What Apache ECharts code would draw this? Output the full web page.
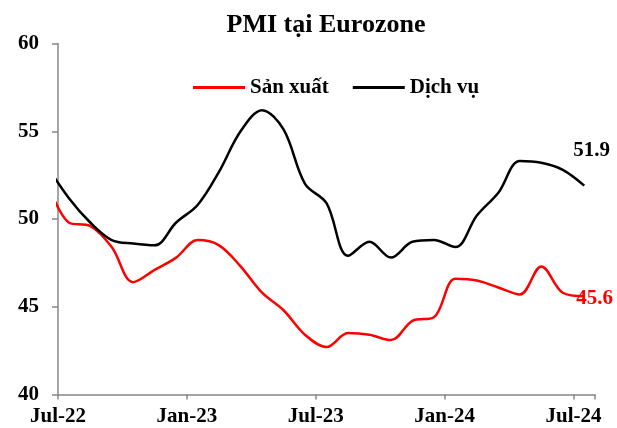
<!DOCTYPE html>
<html lang="vi">
<head>
<meta charset="UTF-8">
<title>PMI tại Eurozone</title>
<script src="https://cdn.jsdelivr.net/npm/echarts@6/dist/echarts.min.js"></script>
<style>
  html, body { margin: 0; padding: 0; background: #fff; }
  #chart { width: 617px; height: 428px; }
</style>
</head>
<body>
<div id="chart"></div>
<script>
// monthly PMI, Jun-22 .. Jul-24 (first month is cut by the axis start)
var monthNames = ['Jun-22','Jul-22','Aug-22','Sep-22','Oct-22','Nov-22','Dec-22',
  'Jan-23','Feb-23','Mar-23','Apr-23','May-23','Jun-23','Jul-23','Aug-23','Sep-23',
  'Oct-23','Nov-23','Dec-23','Jan-24','Feb-24','Mar-24','Apr-24','May-24','Jun-24','Jul-24'];
var sanXuat = [52.1, 49.8, 49.6, 48.4, 46.4, 47.1, 47.8, 48.8, 48.5, 47.3, 45.8, 44.8, 43.4,
  42.7, 43.5, 43.4, 43.1, 44.2, 44.4, 46.6, 46.5, 46.1, 45.7, 47.3, 45.8, 45.6];
var dichVu = [53.0, 51.2, 49.8, 48.8, 48.6, 48.5, 49.8, 50.8, 52.7, 55.0, 56.2, 55.1, 52.0,
  50.9, 47.9, 48.7, 47.8, 48.7, 48.8, 48.4, 50.2, 51.5, 53.3, 53.2, 52.8, 51.9];
var tickLabels = { 0: 'Jul-22', 6: 'Jan-23', 12: 'Jul-23', 18: 'Jan-24', 24: 'Jul-24' };

var serif = "'Liberation Serif', 'Times New Roman', serif";

// months counted from 1 Jul 2022, each value sits mid-month
function toPairs(arr) {
  return arr.map(function (v, i) { return [i - 0.5, v]; });
}

var myChart = echarts.init(document.getElementById('chart'));

var option = {
  animation: false,
  title: {
    text: 'PMI tại Eurozone',
    left: 321,
    textAlign: 'center',
    top: 7,
    textStyle: { fontFamily: serif, fontWeight: 'bold', fontSize: 26, color: '#000' }
  },
  legend: {
    left: 188,
    top: 72,
    icon: 'rect',
    itemWidth: 52,
    itemHeight: 3,
    itemGap: 24,
    textStyle: { fontFamily: serif, fontWeight: 'bold', fontSize: 21, color: '#000' },
    data: ['Sản xuất', 'Dịch vụ']
  },
  grid: { left: 58, right: 22, top: 43.5, bottom: 33.5, containLabel: false },
  xAxis: {
    type: 'value',
    min: 0,
    max: 25,
    interval: 6,
    axisLine: { lineStyle: { color: '#888', width: 1.5 } },
    axisTick: { show: true, length: 5, lineStyle: { color: '#888', width: 1.5 } },
    splitLine: { show: false },
    axisLabel: {
      margin: 12,
      fontFamily: serif, fontWeight: 'bold', fontSize: 21, color: '#000',
      formatter: function (v) { return tickLabels[v] || ''; }
    }
  },
  yAxis: {
    type: 'value',
    min: 40,
    max: 60,
    interval: 5,
    axisLine: { show: true, lineStyle: { color: '#888', width: 1.5 } },
    axisTick: { show: true, length: 6, lineStyle: { color: '#888', width: 1.5 } },
    splitLine: { show: false },
    axisLabel: { margin: 19, fontFamily: serif, fontWeight: 'bold', fontSize: 21, color: '#000' }
  },
  series: [
    {
      name: 'Sản xuất',
      type: 'line',
      smooth: 0.35,
      showSymbol: false,
      color: '#ff0000',
      lineStyle: { width: 2.5, color: '#ff0000' },
      data: toPairs(sanXuat),
      endLabel: {
        show: true,
        distance: 0,
        offset: [-8, 2],
        formatter: function (p) { return p.value[1].toFixed(1); },
        fontFamily: serif, fontWeight: 'bold', fontSize: 21, color: '#ff0000'
      }
    },
    {
      name: 'Dịch vụ',
      type: 'line',
      smooth: 0.35,
      showSymbol: false,
      color: '#000',
      lineStyle: { width: 2.5, color: '#000' },
      data: toPairs(dichVu),
      endLabel: {
        show: true,
        distance: 0,
        offset: [-11, -35],
        formatter: function (p) { return p.value[1].toFixed(1); },
        fontFamily: serif, fontWeight: 'bold', fontSize: 21, color: '#000'
      }
    }
  ]
};

myChart.setOption(option);
</script>
</body>
</html>
